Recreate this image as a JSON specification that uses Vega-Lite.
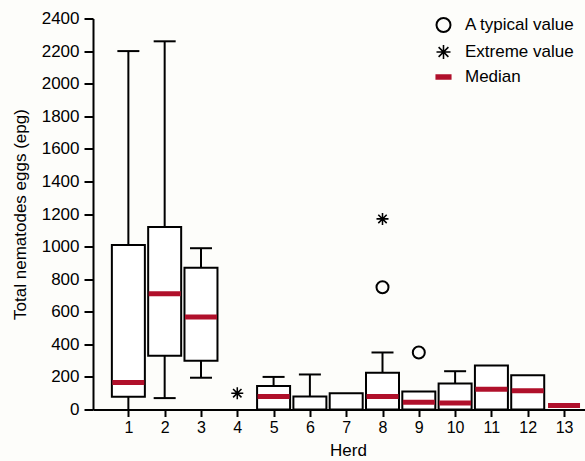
{
  "$schema": "https://vega.github.io/schema/vega-lite/v6.json",
  "width": 492,
  "height": 391,
  "autosize": {"type": "none"},
  "padding": {"left": 93, "top": 18.5, "right": 0, "bottom": 51.5},
  "background": "#fdfdfa",
  "config": {
    "view": {"stroke": null},
    "font": "Liberation Sans",
    "axis": {
      "grid": false,
      "domainColor": "black",
      "tickColor": "black",
      "labelColor": "black",
      "titleColor": "black",
      "domainWidth": 2,
      "tickWidth": 2,
      "labelFont": "Liberation Sans",
      "titleFont": "Liberation Sans",
      "titleFontWeight": "normal",
      "labelOverlap": false
    },
    "axisY": {
      "values": [0,200,400,600,800,1000,1200,1400,1600,1800,2000,2200,2400],
      "tickCount": 13,
      "format": "d",
      "labelFontSize": 17,
      "titleFontSize": 17,
      "tickSize": 9,
      "labelPadding": 5
    }
  },
  "datasets": {
    "boxes": [
      {"herd": 1, "q1": 78, "q3": 1010, "median": 165, "wlo": 0, "whi": 2200},
      {"herd": 2, "q1": 330, "q3": 1120, "median": 710, "wlo": 70, "whi": 2260},
      {"herd": 3, "q1": 300, "q3": 870, "median": 568, "wlo": 195, "whi": 990},
      {"herd": 5, "q1": 0, "q3": 145, "median": 80, "wlo": 0, "whi": 200},
      {"herd": 6, "q1": 0, "q3": 80, "median": null, "wlo": 0, "whi": 215},
      {"herd": 7, "q1": 0, "q3": 100, "median": null, "wlo": null, "whi": null},
      {"herd": 8, "q1": 0, "q3": 225, "median": 80, "wlo": 0, "whi": 350},
      {"herd": 9, "q1": 0, "q3": 110, "median": 45, "wlo": null, "whi": null},
      {"herd": 10, "q1": 0, "q3": 160, "median": 40, "wlo": 0, "whi": 235},
      {"herd": 11, "q1": 0, "q3": 270, "median": 125, "wlo": null, "whi": null},
      {"herd": 12, "q1": 0, "q3": 210, "median": 115, "wlo": null, "whi": null},
      {"herd": 13, "q1": null, "q3": null, "median": 25, "wlo": null, "whi": null}
    ],
    "points": [
      {"herd": 8, "value": 750, "kind": "A typical value"},
      {"herd": 9, "value": 350, "kind": "A typical value"},
      {"herd": 4, "value": 100, "kind": "Extreme value"},
      {"herd": 8, "value": 1170, "kind": "Extreme value"}
    ]
  },
  "layer": [
    {
      "data": {"name": "boxes"},
      "transform": [{"filter": "datum.whi != null"}],
      "mark": {"type": "rule", "color": "black", "strokeWidth": 2},
      "encoding": {
        "x": {"field": "herd", "type": "quantitative",
          "scale": {"domain": [0.1636, 13.44], "nice": false, "zero": false},
          "axis": {"values": [1,2,3,4,5,6,7,8,9,10,11,12,13], "format": "d", "title": "Herd",
            "labelFontSize": 16, "titleFontSize": 17, "tickSize": 7, "labelPadding": 3,
            "titleX": 255, "titleY": 33, "titleBaseline": "top", "titleAnchor": null}},
        "y": {"field": "wlo", "type": "quantitative",
          "scale": {"domain": [0, 2400], "nice": false},
          "axis": {"values": [0,200,400,600,800,1000,1200,1400,1600,1800,2000,2200,2400],
            "title": "Total nematodes eggs (epg)", "titleX": -64, "titleY": 195.5, "titleAngle": 270,
            "titleBaseline": "bottom", "titleAlign": "center"}},
        "y2": {"field": "whi"}
      }
    },
    {
      "data": {"name": "boxes"},
      "transform": [{"filter": "datum.whi != null"}],
      "mark": {"type": "tick", "orient": "horizontal", "color": "black", "size": 22, "thickness": 2, "opacity": 1},
      "encoding": {
        "x": {"field": "herd", "type": "quantitative"},
        "y": {"field": "whi", "type": "quantitative"}
      }
    },
    {
      "data": {"name": "boxes"},
      "transform": [{"filter": "datum.wlo > 0"}],
      "mark": {"type": "tick", "orient": "horizontal", "color": "black", "size": 22, "thickness": 2, "opacity": 1},
      "encoding": {
        "x": {"field": "herd", "type": "quantitative"},
        "y": {"field": "wlo", "type": "quantitative"}
      }
    },
    {
      "data": {"name": "boxes"},
      "transform": [{"filter": "datum.q3 != null"}],
      "mark": {"type": "bar", "orient": "vertical", "size": 33, "fill": "white", "stroke": "black", "strokeWidth": 2},
      "encoding": {
        "x": {"field": "herd", "type": "quantitative"},
        "y": {"field": "q1", "type": "quantitative"},
        "y2": {"field": "q3"}
      }
    },
    {
      "data": {"name": "boxes"},
      "transform": [{"filter": "datum.median != null"}],
      "mark": {"type": "tick", "orient": "horizontal", "color": "#b0102b", "size": 32, "thickness": 5, "opacity": 1},
      "encoding": {
        "x": {"field": "herd", "type": "quantitative"},
        "y": {"field": "median", "type": "quantitative"}
      }
    },
    {
      "data": {"name": "points"},
      "mark": {"type": "point", "filled": false, "size": 144, "opacity": 1},
      "encoding": {
        "x": {"field": "herd", "type": "quantitative"},
        "y": {"field": "value", "type": "quantitative"},
        "shape": {"field": "kind", "type": "nominal",
          "scale": {"domain": ["A typical value", "Extreme value", "Median"],
            "range": ["circle", "M-1,0L1,0M0,-1L0,1M-0.7,-0.7L0.7,0.7M-0.7,0.7L0.7,-0.7", "M-1.15,-0.3H1.15M-1.15,-0.15H1.15M-1.15,0H1.15M-1.15,0.15H1.15M-1.15,0.3H1.15"]},
          "legend": {"title": null, "orient": "none", "legendX": 342, "legendY": -2, "padding": 0,
            "labelFontSize": 17, "labelFont": "Liberation Sans", "labelColor": "black", "symbolSize": 196, "labelOffset": 13,
            "rowPadding": 5, "symbolOpacity": 1, "symbolStrokeWidth": 1.8}},
        "color": {"field": "kind", "type": "nominal",
          "scale": {"domain": ["A typical value", "Extreme value", "Median"],
            "range": ["black", "black", "#b0102b"]}},
        "strokeWidth": {"field": "kind", "type": "nominal",
          "scale": {"domain": ["A typical value", "Extreme value", "Median"],
            "range": [2, 1.1, 2]}}
      }
    }
  ]
}
